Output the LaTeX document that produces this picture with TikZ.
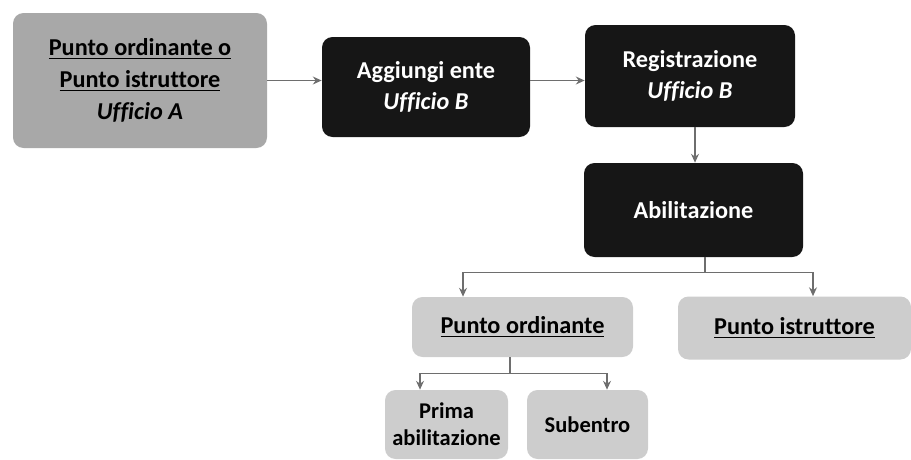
\documentclass[tikz,border=0pt]{standalone}
\usepackage{fontspec}
\setmainfont[Ligatures={NoCommon}]{Carlito}
\usetikzlibrary{arrows.meta}
\definecolor{boxdark}{HTML}{161616}
\definecolor{boxmid}{HTML}{A8A8A8}
\definecolor{boxlight}{HTML}{CDCDCD}
\definecolor{linkgray}{HTML}{6E6E6E}
\tikzset{
  flowbox/.style={rounded corners=6pt, align=center, inner sep=0pt, font=\bfseries\fontsize{13.8}{18}\selectfont},
  darkbox/.style={flowbox, fill=boxdark, text=white},
  midbox/.style={flowbox, fill=boxmid, text=black},
  lightbox/.style={flowbox, fill=boxlight, text=black},
  smallbox/.style={lightbox, font=\bfseries\fontsize{12.8}{15.5}\selectfont},
  link/.style={draw=linkgray, line width=0.8pt, -{Stealth[length=5pt,width=4.5pt]}}
}
\begin{document}
\begin{tikzpicture}
\useasboundingbox (0,0) rectangle (18.22,-9.18);

\node[midbox, minimum width=5.08cm, minimum height=2.70cm] (ente) at (2.80,-1.61)
  {\underline{Punto ordinante o}\\ \underline{Punto istruttore}\\ \textit{Ufficio A}};
\node[darkbox, minimum width=4.16cm, minimum height=2.00cm] (aggiungi) at (8.52,-1.74)
  {Aggiungi ente\\ \textit{Ufficio B}};
\node[darkbox, minimum width=4.20cm, minimum height=2.04cm] (registra) at (13.80,-1.52)
  {Registrazione\\ \textit{Ufficio B}};
\node[darkbox, minimum width=4.38cm, minimum height=1.88cm] (abilita) at (13.87,-4.20)
  {Abilitazione};

\node[lightbox, minimum width=4.42cm, minimum height=1.20cm] (ordinante) at (10.45,-6.54)
  {\underline{Punto ordinante}};
\node[lightbox, minimum width=4.66cm, minimum height=1.26cm] (istruttore) at (15.89,-6.56)
  {\underline{Punto istruttore}};

\node[smallbox, minimum width=2.46cm, minimum height=1.38cm] (prima) at (8.93,-8.49)
  {Prima\\ abilitazione};
\node[smallbox, minimum width=2.42cm, minimum height=1.38cm] (subentro) at (11.75,-8.49)
  {Subentro};

\draw[link] (ente.east) -- (ente.east -| aggiungi.west);
\draw[link] (aggiungi.east |- ente.east) -- (registra.west |- ente.east);
\draw[link] ([xshift=0.1cm]registra.south) -- ([xshift=0.1cm]registra.south |- abilita.north);

\draw[linkgray, line width=0.8pt] ([xshift=0.23cm]abilita.south) -- ++(0,-0.30) coordinate (split1);
\draw[link] (split1) -| ([xshift=-1.19cm]ordinante.north);
\draw[link] (split1) -| ([xshift=0.37cm]istruttore.north);

\draw[linkgray, line width=0.8pt] ([xshift=-0.25cm]ordinante.south) -- ++(0,-0.32) coordinate (split2);
\draw[link] (split2) -| ([xshift=-0.53cm]prima.north);
\draw[link] (split2) -| ([xshift=0.39cm]subentro.north);

\end{tikzpicture}
\end{document}
